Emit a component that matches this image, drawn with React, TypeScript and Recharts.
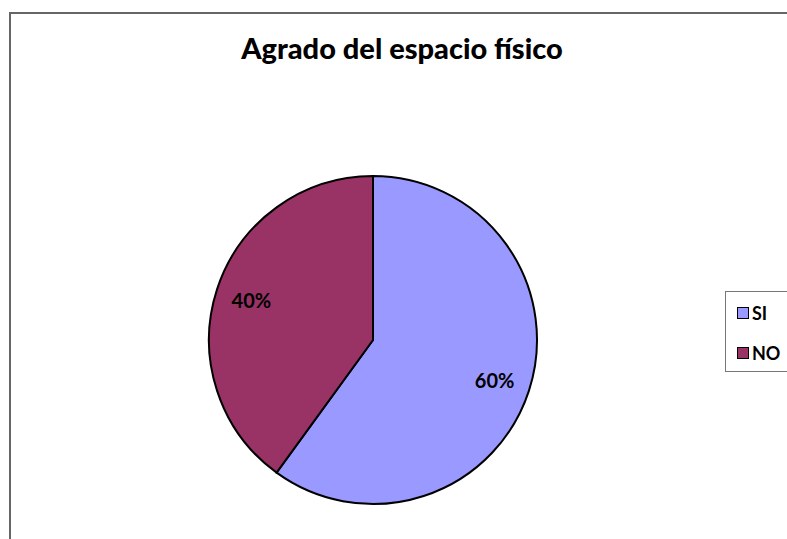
import { PieChart, Pie, Cell } from 'recharts';

const categories = ['SI', 'NO'];
const values = [60, 40];
const COLORS = ['#9999FF', '#993366'];

const data = categories.map((name, i) => ({ name, value: values[i] }));
const total = values.reduce((a, b) => a + b, 0);

const FONT = 'Lato, "Open Sans", sans-serif';
const RADIAN = Math.PI / 180;

const renderLabel = (props: any) => {
  const { cx, cy, midAngle, outerRadius, value } = props;
  const r = outerRadius * 0.78;
  const x = cx + r * Math.cos(-midAngle * RADIAN);
  const y = cy + r * Math.sin(-midAngle * RADIAN);
  return (
    <text x={x} y={y} textAnchor="middle" dominantBaseline="central" fontFamily={FONT} fontWeight="bold" fontSize={20} fill="#000">
      {`${Math.round((value / total) * 100)}%`}
    </text>
  );
};

export default function App() {
  return (
    <div style={{ position: 'absolute', left: 0, top: 0, width: 787, height: 539, overflow: 'hidden', background: '#fff' }}>
      <div style={{ position: 'absolute', left: 9, top: 12, width: 820, height: 600, border: '2px solid #666', boxSizing: 'border-box' }} />
      <div style={{ position: 'absolute', left: 0, top: 30, width: 804, textAlign: 'center', fontFamily: FONT, fontWeight: 900, fontSize: 29, lineHeight: '36px', color: '#000' }}>
        Agrado del espacio físico
      </div>
      <div style={{ position: 'absolute', left: 0, top: 0 }}>
        <PieChart width={787} height={539} margin={{ top: 0, right: 0, bottom: 0, left: 0 }}>
          <Pie
            data={data}
            dataKey="value"
            nameKey="name"
            cx={373}
            cy={340}
            outerRadius={164}
            startAngle={90}
            endAngle={-270}
            stroke="#000"
            strokeWidth={2}
            labelLine={false}
            label={renderLabel}
            isAnimationActive={false}
          >
            {data.map((d, i) => (
              <Cell key={`cell-${d.name}`} fill={COLORS[i]} />
            ))}
          </Pie>
        </PieChart>
      </div>
      <div style={{ position: 'absolute', left: 725, top: 291, width: 80, height: 81, border: '1px solid #777', boxSizing: 'border-box', paddingTop: 10, paddingLeft: 11, fontFamily: FONT, fontWeight: 'bold', fontSize: 18 }}>
        {data.map((d, i) => (
          <div key={d.name} style={{ display: 'flex', alignItems: 'center', height: 22, marginBottom: i === 0 ? 18 : 0 }}>
            <span style={{ width: 10, height: 10, background: COLORS[i], border: '1px solid #000', marginRight: 3, display: 'inline-block' }} />
            <span>{d.name}</span>
          </div>
        ))}
      </div>
    </div>
  );
}
